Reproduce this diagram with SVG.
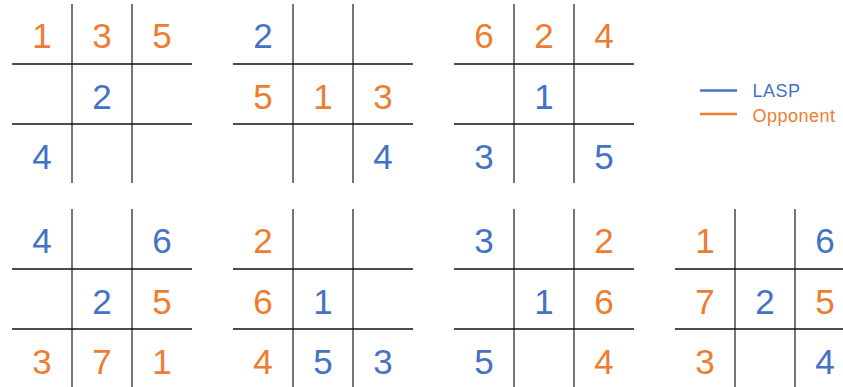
<svg xmlns="http://www.w3.org/2000/svg" width="843" height="387" viewBox="0 0 843 387">
<style>
.v{stroke:#767676;stroke-width:2;fill:none}
.h{stroke:#111;stroke-width:1.3;fill:none}
text{font-family:"Liberation Sans",Arial,sans-serif}
.d{font-size:35px;text-anchor:middle}
.b{fill:#4472C4}
.o{fill:#ED7D31}
.lg{font-size:18px;letter-spacing:0.5px}
</style>
<defs>
<g id="grid">
<line class="v" x1="72" y1="4" x2="72" y2="183"/>
<line class="v" x1="132" y1="4" x2="132" y2="183"/>
<line class="h" x1="12" y1="64" x2="192" y2="64"/>
<line class="h" x1="12" y1="124" x2="192" y2="124"/>
</g>
</defs>
<g id="board1">
<use href="#grid"/>
<text class="d o" x="42" y="48">1</text><text class="d o" x="102" y="48">3</text><text class="d o" x="162" y="48">5</text>
<text class="d b" x="102" y="108.5">2</text>
<text class="d b" x="42" y="169">4</text>
</g>
<g id="board2" transform="translate(221,0)">
<use href="#grid"/>
<text class="d b" x="42" y="48">2</text>
<text class="d o" x="42" y="108.5">5</text><text class="d o" x="102" y="108.5">1</text><text class="d o" x="162" y="108.5">3</text>
<text class="d b" x="162" y="169">4</text>
</g>
<g id="board3" transform="translate(442,0)">
<use href="#grid"/>
<text class="d o" x="42" y="48">6</text><text class="d o" x="102" y="48">2</text><text class="d o" x="162" y="48">4</text>
<text class="d b" x="102" y="108.5">1</text>
<text class="d b" x="42" y="169">3</text><text class="d b" x="162" y="169">5</text>
</g>
<g id="board4" transform="translate(0,205)">
<use href="#grid"/>
<text class="d b" x="42" y="48">4</text><text class="d b" x="162" y="48">6</text>
<text class="d b" x="102" y="108.5">2</text><text class="d o" x="162" y="108.5">5</text>
<text class="d o" x="42" y="169">3</text><text class="d o" x="102" y="169">7</text><text class="d o" x="162" y="169">1</text>
</g>
<g id="board5" transform="translate(221,205)">
<use href="#grid"/>
<text class="d o" x="42" y="48">2</text>
<text class="d o" x="42" y="108.5">6</text><text class="d b" x="102" y="108.5">1</text>
<text class="d o" x="42" y="169">4</text><text class="d b" x="102" y="169">5</text><text class="d b" x="162" y="169">3</text>
</g>
<g id="board6" transform="translate(442,205)">
<use href="#grid"/>
<text class="d b" x="42" y="48">3</text><text class="d o" x="162" y="48">2</text>
<text class="d b" x="102" y="108.5">1</text><text class="d o" x="162" y="108.5">6</text>
<text class="d b" x="42" y="169">5</text><text class="d o" x="162" y="169">4</text>
</g>
<g id="board7" transform="translate(663,205)">
<use href="#grid"/>
<text class="d o" x="42" y="48">1</text><text class="d b" x="162" y="48">6</text>
<text class="d o" x="42" y="108.5">7</text><text class="d b" x="102" y="108.5">2</text><text class="d o" x="162" y="108.5">5</text>
<text class="d o" x="42" y="169">3</text><text class="d b" x="162" y="169">4</text>
</g>
<g id="legend">
<line x1="700" y1="90.5" x2="737" y2="90.5" stroke="#4472C4" stroke-width="2.5"/>
<line x1="700" y1="114" x2="737" y2="114" stroke="#ED7D31" stroke-width="2.5"/>
<text class="lg b" x="752.5" y="97.3">LASP</text>
<text class="lg o" x="752.5" y="122.3">Opponent</text>
</g>
</svg>
